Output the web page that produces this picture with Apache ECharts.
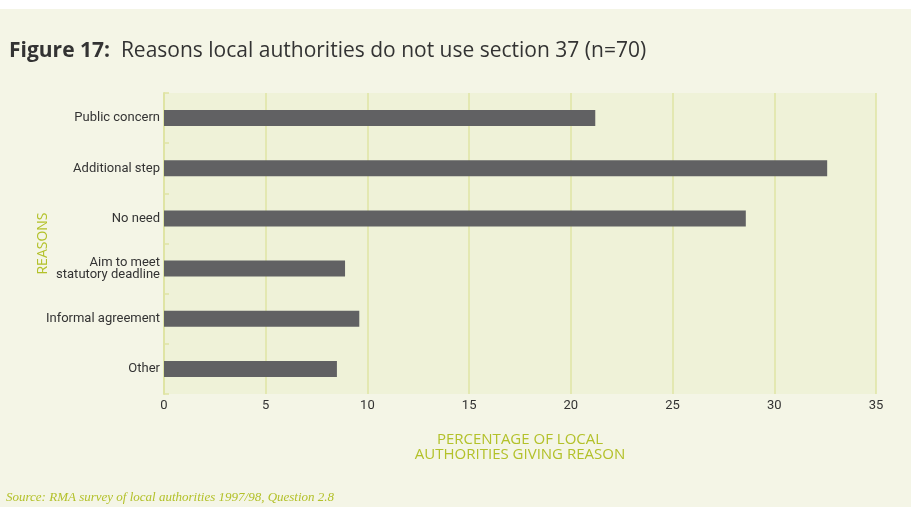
<!DOCTYPE html>
<html>
<head>
<meta charset="utf-8">
<script src="https://cdn.jsdelivr.net/npm/echarts@6/dist/echarts.min.js"></script>
<style>
  html, body { margin: 0; padding: 0; background: #ffffff; }
  #chart { width: 911px; height: 507px; }
</style>
</head>
<body>
<div id="chart"></div>
<script>
// Reasons (top to bottom as drawn)
const reasons = [
  'Public concern',
  'Additional step',
  'No need',
  'Aim to meet\nstatutory deadline',
  'Informal agreement',
  'Other'
];
// Percentage of local authorities giving each reason
const percentages = [21.2, 32.6, 28.6, 8.9, 9.6, 8.5];
// Value axis ticks
const axisMin = 0;
const axisMax = 35;
const axisStep = 5;

const green = '#b3c12a';
const titleFont = '"Open Sans", sans-serif';
const labelFont = 'Roboto, "Open Sans", sans-serif';

const chart = echarts.init(document.getElementById('chart'));
chart.setOption({
  animation: false,
  backgroundColor: 'transparent',
  graphic: [
    { type: 'rect', shape: { x: 0, y: 0, width: 911, height: 9 }, style: { fill: '#ffffff' }, silent: true },
    { type: 'rect', shape: { x: 0, y: 9, width: 911, height: 498 }, style: { fill: '#f4f5e6' }, silent: true, z: -1 },
    {
      type: 'text', left: 6, top: 491,
      style: {
        text: 'Source: RMA survey of local authorities 1997/98, Question 2.8',
        fill: green,
        font: 'italic 13px "Liberation Serif", "DejaVu Serif", serif'
      }
    }
  ],
  title: {
    left: 9, top: 41, padding: 0,
    text: '{b|Figure 17:}  Reasons local authorities do not use section 37 (n=70)',
    textStyle: {
      color: '#333333',
      fontFamily: titleFont,
      fontSize: 21,
      fontWeight: 'normal',
      rich: {
        b: { fontFamily: titleFont, fontSize: 21, fontWeight: 'bold', color: '#333333' }
      }
    }
  },
  grid: {
    left: 164, right: 35, top: 93, bottom: 113,
    outerBoundsMode: 'none',
    containLabel: false,
    show: true,
    backgroundColor: '#eff2d8',
    borderWidth: 0
  },
  xAxis: {
    type: 'value',
    min: axisMin, max: axisMax, interval: axisStep,
    name: 'PERCENTAGE OF LOCAL\nAUTHORITIES GIVING REASON',
    nameLocation: 'middle',
    nameGap: 38,
    nameMoveOverlap: false,
    nameTextStyle: { color: green, fontFamily: titleFont, fontSize: 15, lineHeight: 15 },
    axisLine: { show: false },
    axisTick: { show: false },
    axisLabel: { color: '#333333', fontFamily: labelFont, fontSize: 13, margin: 5 },
    splitLine: { show: true, lineStyle: { color: '#dfe4a4', width: 1.5 } }
  },
  yAxis: {
    type: 'category',
    data: reasons,
    inverse: true,
    name: 'REASONS',
    nameLocation: 'middle',
    nameGap: 114,
    nameMoveOverlap: false,
    nameTextStyle: { color: green, fontFamily: titleFont, fontSize: 14 },
    axisLine: { show: true, lineStyle: { color: '#dfe4a4', width: 2 } },
    axisTick: { show: true, inside: true, length: 5, lineStyle: { color: '#dfe4a4', width: 1.5 } },
    axisLabel: { color: '#333333', fontFamily: labelFont, fontSize: 13, lineHeight: 12, margin: 4 },
    splitLine: { show: false }
  },
  series: [{
    type: 'bar',
    data: percentages,
    barWidth: 16,
    itemStyle: { color: '#616163' },
    silent: true
  }]
});
</script>
</body>
</html>
